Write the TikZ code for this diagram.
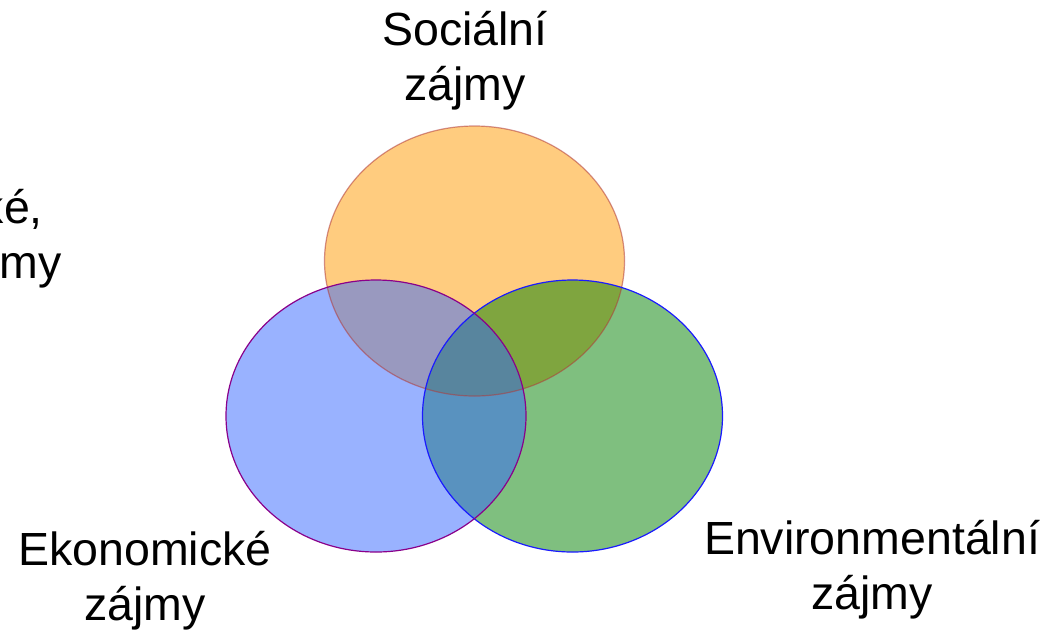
\documentclass[tikz,border=0pt]{standalone}
\usepackage{fontspec}
\setmainfont{Liberation Sans}
\definecolor{cOrange}{HTML}{FF9900}
\definecolor{cGreen}{HTML}{008000}
\definecolor{cBlue}{HTML}{3366FF}
\definecolor{cOrangeLine}{HTML}{B03A3A}
\definecolor{cPurple}{HTML}{8A008A}
\definecolor{cBlueLine}{HTML}{1A1AFF}
\begin{document}
\begin{tikzpicture}[x=1pt,y=-1pt,
  lbl/.style={font=\fontsize{46.5}{55}\selectfont, inner sep=0pt, anchor=base, text=black},
  lblr/.style={lbl, anchor=base east},
  setfill/.style={fill opacity=0.5, draw=none}]
\useasboundingbox (0,0) rectangle (1062,633);
\clip (0,0) rectangle (1062,633);
% fills
\fill[setfill, fill=cOrange] (474.5,261) ellipse [x radius=150, y radius=135];
\fill[setfill, fill=cGreen] (572.5,416) ellipse [x radius=150, y radius=136];
\fill[setfill, fill=cBlue] (376,416) ellipse [x radius=150, y radius=136];
% outlines
\draw[cOrangeLine, line width=1.2pt, draw opacity=0.55] (474.5,261) ellipse [x radius=150, y radius=135];
\draw[cBlueLine, line width=1.2pt] (572.5,416) ellipse [x radius=150, y radius=136];
\draw[cPurple, line width=1.2pt] (376,416) ellipse [x radius=150, y radius=136];
% labels
\node[lbl] (soc1) at (465,45) {Sociální};
\node[lbl] (soc2) at (465,100) {zájmy};
\node[lbl] (eko1) at (145,565) {Ekonomické};
\node[lbl] (eko2) at (145,620) {zájmy};
\node[lbl] (env1) at (872,554) {Environmentální};
\node[lbl] (env2) at (872,609) {zájmy};
\node[lblr] (pol1) at (43,223) {ké,};
\node[lblr] (pol2) at (62,278) {my};
\end{tikzpicture}
\end{document}
